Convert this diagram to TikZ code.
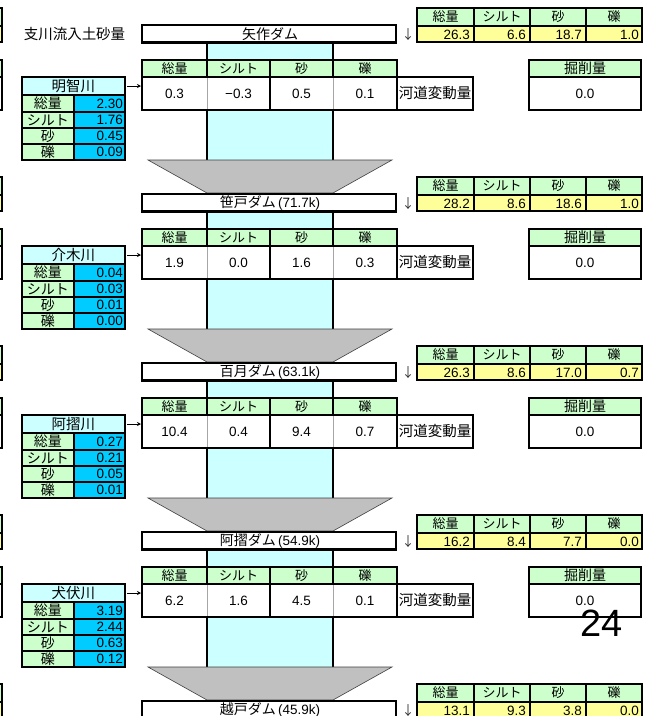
\documentclass[tikz,border=0pt]{standalone}
\usepackage{fontspec}
\setmainfont{Liberation Sans}
\newfontfamily\jp{Noto Sans CJK JP}
\usetikzlibrary{arrows.meta}
\definecolor{hdrg}{HTML}{CCFFCC}
\definecolor{ylw}{HTML}{FFFF99}
\definecolor{cyl}{HTML}{CCFFFF}
\definecolor{tblue}{HTML}{00CCFF}
\definecolor{trapg}{HTML}{C0C0C0}
\newcommand\fsz[1]{\fontsize{#1}{#1}\selectfont}
\tikzset{
 bord/.style={line width=2.3pt},
 inl/.style={line width=1.3pt},
 thinl/.style={line width=0.5pt, draw=gray!70},
 jpt/.style={font=\jp\fsz{14}, inner sep=0pt},
 jph/.style={font=\jp\fsz{13}, inner sep=0pt},
 num/.style={font=\fsz{13.5}, inner sep=0pt},
 ynum/.style={font=\fsz{13.5}, inner sep=0pt, anchor=east},
 trap/.style={fill=trapg, draw=black!75, line width=0.6pt},
 tribarrow/.style={-{Stealth[length=4pt,width=4pt]}, line width=1pt, shorten <=2pt, shorten >=1pt},
}
\begin{document}
\begin{tikzpicture}[x=1pt,y=-1pt]
\useasboundingbox (0,0) rectangle (654,716);
\clip (0,0) rectangle (654,716);
\fill[white] (0,0) rectangle (654,716);

\node[font=\jp\fsz{14.5}, inner sep=0pt] (title) at (74.5,34) {支川流入土砂量};

% middle parts
\foreach \k/\ca/\cb/\cc/\cd/\trn/\ta/\tb/\tc/\td in {
 0/0.3/−0.3/0.5/0.1/明智川/2.30/1.76/0.45/0.09,
 1/1.9/0.0/1.6/0.3/介木川/0.04/0.03/0.01/0.00,
 2/10.4/0.4/9.4/0.7/阿摺川/0.27/0.21/0.05/0.01,
 3/6.2/1.6/4.5/0.1/犬伏川/3.19/2.44/0.63/0.12}{
 \pgfmathtruncatemacro\t{25+169*\k}
 % cyan column
 \fill[cyl] (207,\t+17) rectangle (333,\t+135);
 \draw[bord] (207,\t+17) -- (207,\t+135) (333,\t+17) -- (333,\t+135);
 % trapezoid
 \draw[trap] (148,\t+135) -- (392,\t+135) -- (333,\t+168) -- (207,\t+168) -- cycle;
 % change table
 \fill[hdrg] (142,\t+35) rectangle (397,\t+52);
 \fill[white] (142,\t+52) rectangle (473,\t+85);
 \draw[thinl] (207,\t+52) -- (207,\t+85) (333,\t+52) -- (333,\t+85);
 \draw[bord] (207,\t+35) -- (207,\t+52) (270,\t+35) -- (270,\t+85)
   (333,\t+35) -- (333,\t+52) (397,\t+52) -- (397,\t+85) (142,\t+52) -- (397,\t+52);
 \draw[bord] (142,\t+35) -- (397,\t+35) -- (397,\t+52) -- (473,\t+52) -- (473,\t+85) -- (142,\t+85) -- cycle;
 \node[jph] (ch1h\k) at (174.5,\t+43.5) {総量};
 \node[jph] (ch2h\k) at (238.5,\t+43.5) {シルト};
 \node[jph] (ch3h\k) at (301.5,\t+43.5) {砂};
 \node[jph] (ch4h\k) at (365,\t+43.5) {礫};
 \node[num] (ch1v\k) at (174.5,\t+68.5) {\ca};
 \node[num] (ch2v\k) at (238.5,\t+68.5) {\cb};
 \node[num] (ch3v\k) at (301.5,\t+68.5) {\cc};
 \node[num] (ch4v\k) at (365,\t+68.5) {\cd};
 \node[font=\jp\fsz{14.5}, inner sep=0pt] (kd\k) at (435,\t+68.5) {河道変動量};
 \coordinate (chin\k) at (142,\t+61);
 % excavation box
 \fill[hdrg] (529,\t+35) rectangle (641,\t+52);
 \fill[white] (529,\t+52) rectangle (641,\t+85);
 \draw[bord] (529,\t+35) rectangle (641,\t+85) (529,\t+52) -- (641,\t+52);
 \node[font=\jp\fsz{14}, inner sep=0pt] (exh\k) at (585,\t+43.5) {掘削量};
 \node[num] (exv\k) at (585,\t+68.5) {0.0};
 % tributary box
 \fill[cyl] (22,\t+52) rectangle (125,\t+70);
 \fill[hdrg] (22,\t+70) rectangle (74,\t+135);
 \fill[tblue] (74,\t+70) rectangle (125,\t+135);
 \draw[inl] (22,\t+70) -- (125,\t+70) (22,\t+87) -- (125,\t+87) (22,\t+103) -- (125,\t+103)
   (22,\t+119) -- (125,\t+119) (74,\t+70) -- (74,\t+135);
 \draw[bord] (22,\t+52) rectangle (125,\t+135);
 \node[font=\jp\fsz{14.5}, inner sep=0pt, minimum width=103pt, minimum height=18pt] (trib\k) at (73.5,\t+61) {\trn};
 \node[jpt] (tl1\k) at (48,\t+78.5) {総量};
 \node[jpt] (tl2\k) at (48,\t+95) {シルト};
 \node[jpt] (tl3\k) at (48,\t+111) {砂};
 \node[jpt] (tl4\k) at (48,\t+127) {礫};
 \node[num, anchor=east] (tv1\k) at (123,\t+78.5) {\ta};
 \node[num, anchor=east] (tv2\k) at (123,\t+95) {\tb};
 \node[num, anchor=east] (tv3\k) at (123,\t+111) {\tc};
 \node[num, anchor=east] (tv4\k) at (123,\t+127) {\td};
 \draw[tribarrow] (trib\k.east) -- (chin\k);
}

% dam units
\foreach \k/\dam/\dk/\ya/\yb/\yc/\yd in {
 0/矢作ダム/{}/26.3/6.6/18.7/1.0,
 1/笹戸ダム/{\,(71.7k)}/28.2/8.6/18.6/1.0,
 2/百月ダム/{\,(63.1k)}/26.3/8.6/17.0/0.7,
 3/阿摺ダム/{\,(54.9k)}/16.2/8.4/7.7/0.0,
 4/越戸ダム/{\,(45.9k)}/13.1/9.3/3.8/0.0}{
 \pgfmathtruncatemacro\t{25+169*\k}
 \draw[bord, fill=white] (142,\t) rectangle (396,\t+17.5);
 \node[inner sep=0pt] (dam\k) at (270,\t+9) {{\jp\fsz{14}\dam}{\fsz{13.5}\dk}};
 \node[font=\jp\fsz{13}, inner sep=0pt, text=black!80] (dn\k) at (408,\t+10) {↓};
 % yellow table
 \fill[hdrg] (417,\t-17) rectangle (642,\t+1);
 \fill[ylw] (417,\t+1) rectangle (642,\t+17);
 \draw[inl] (474,\t-17) -- (474,\t+17) (530,\t-17) -- (530,\t+17) (586,\t-17) -- (586,\t+17);
 \draw[bord] (417,\t+1) -- (642,\t+1);
 \draw[bord] (417,\t-17) rectangle (642,\t+17);
 \node[jph] (yh1\k) at (445.5,\t-8) {総量};
 \node[jph] (yh2\k) at (502,\t-8) {シルト};
 \node[jph] (yh3\k) at (558,\t-8) {砂};
 \node[jph] (yh4\k) at (614,\t-8) {礫};
 \node[ynum] (yv1\k) at (470,\t+9.5) {\ya};
 \node[ynum] (yv2\k) at (526,\t+9.5) {\yb};
 \node[ynum] (yv3\k) at (582,\t+9.5) {\yc};
 \node[ynum] (yv4\k) at (639,\t+9.5) {\yd};
 % left edge fragments
 \fill[hdrg] (-5,\t-17) rectangle (2,\t+1);
 \fill[ylw] (-5,\t+1) rectangle (2,\t+17);
 \draw[bord] (-5,\t-17) rectangle (2,\t+17) (-5,\t+1) -- (2,\t+1);
 \fill[hdrg] (-5,\t+35) rectangle (2,\t+52);
 \fill[white] (-5,\t+52) rectangle (2,\t+85);
 \draw[bord] (-5,\t+35) rectangle (2,\t+85) (-5,\t+52) -- (2,\t+52);
}

\node[font=\fsz{38}, inner sep=0pt, anchor=base] (pg) at (602,636) {24};
\end{tikzpicture}
\end{document}
